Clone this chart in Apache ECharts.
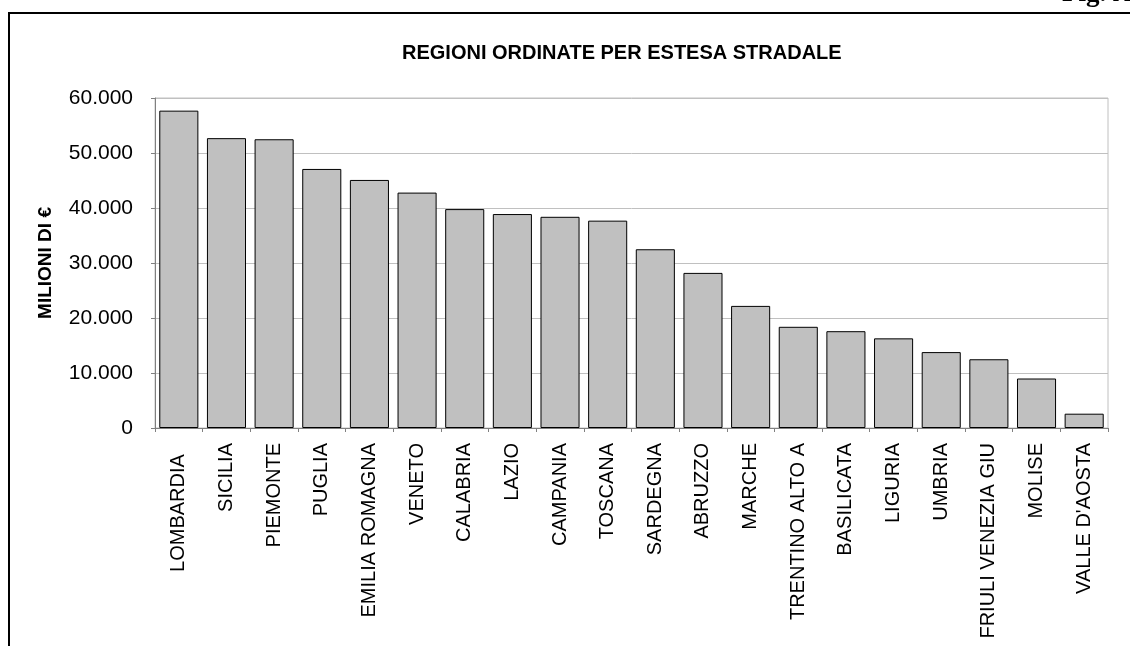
<!DOCTYPE html>
<html>
<head>
<meta charset="utf-8">
<script src="https://cdn.jsdelivr.net/npm/echarts@6/dist/echarts.min.js"></script>
<style>
  html, body { margin: 0; padding: 0; background: #fff; }
  #chart { width: 1130px; height: 646px; }
</style>
</head>
<body>
<div id="chart"></div>
<script>
// regioni ordinate per estesa stradale (milioni di €)
const regioni = ['LOMBARDIA  ', 'SICILIA', 'PIEMONTE', 'PUGLIA', 'EMILIA ROMAGNA', 'VENETO',
  'CALABRIA', 'LAZIO', 'CAMPANIA', 'TOSCANA', 'SARDEGNA', 'ABRUZZO', 'MARCHE',
  'TRENTINO ALTO A', 'BASILICATA', 'LIGURIA', 'UMBRIA', 'FRIULI VENEZIA GIU', 'MOLISE', "VALLE D'AOSTA"]
const valori = [57700, 52700, 52500, 47100, 45100, 42800, 39800, 38900, 38400, 37700,
  32500, 28200, 22200, 18400, 17600, 16300, 13800, 12500, 9000, 2600]

const font = '"Liberation Sans", Arial, sans-serif'

// separatore migliaia con il punto
const fmt = v => String(v).replace(/\B(?=(\d{3})+(?!\d))/g, '.')

const chart = echarts.init(document.getElementById('chart'), null, {renderer: 'canvas'})

const option = {
  backgroundColor: '#fff',
  animation: false,
  title: {
    text: 'REGIONI ORDINATE PER ESTESA STRADALE',
    left: 397,
    top: 38,
    textStyle: {fontFamily: font, fontSize: 20, fontWeight: 'bold', color: '#000'}
  },
  grid: {
    left: 155, right: 22, top: 98, bottom: 218,
    show: true, borderColor: '#c0c0c0', borderWidth: 1
  },
  xAxis: {
    type: 'category',
    data: regioni,
    axisLine: {lineStyle: {color: '#808080', width: 1}},
    axisTick: {show: true, length: 4, lineStyle: {color: '#808080'}},
    axisLabel: {rotate: 90, margin: 15, interval: 0, fontFamily: font, fontSize: 20, color: '#000'}
  },
  yAxis: {
    type: 'value',
    min: 0, max: 60000, interval: 10000,
    name: 'MILIONI DI €',
    nameLocation: 'middle',
    nameRotate: 90,
    nameGap: 100,
    nameTextStyle: {fontFamily: font, fontSize: 19, fontWeight: 'bold', color: '#000'},
    axisLine: {show: true, lineStyle: {color: '#808080', width: 1}},
    axisTick: {show: true, length: 4, lineStyle: {color: '#808080'}},
    axisLabel: {margin: 22, fontFamily: font, fontSize: 21, color: '#000', formatter: fmt},
    splitLine: {lineStyle: {color: '#c0c0c0', width: 1}}
  },
  series: [{
    type: 'bar',
    data: valori,
    barCategoryGap: '18%',
    itemStyle: {color: '#c0c0c0', borderColor: '#000', borderWidth: 1}
  }],
  graphic: [
    // cornice della figura
    {
      type: 'rect', silent: true, z: -1,
      shape: {x: 9, y: 13, width: 1200, height: 700},
      style: {fill: 'none', stroke: '#000', lineWidth: 2}
    },
    {
      type: 'text', silent: true,
      x: 1062, y: 8,
      style: {text: 'Fig. A', font: 'bold 27px "Liberation Serif", "Times New Roman", serif', fill: '#000', verticalAlign: 'bottom'}
    }
  ]
}

chart.setOption(option)
window.addEventListener('resize', () => chart.resize())
</script>
</body>
</html>
